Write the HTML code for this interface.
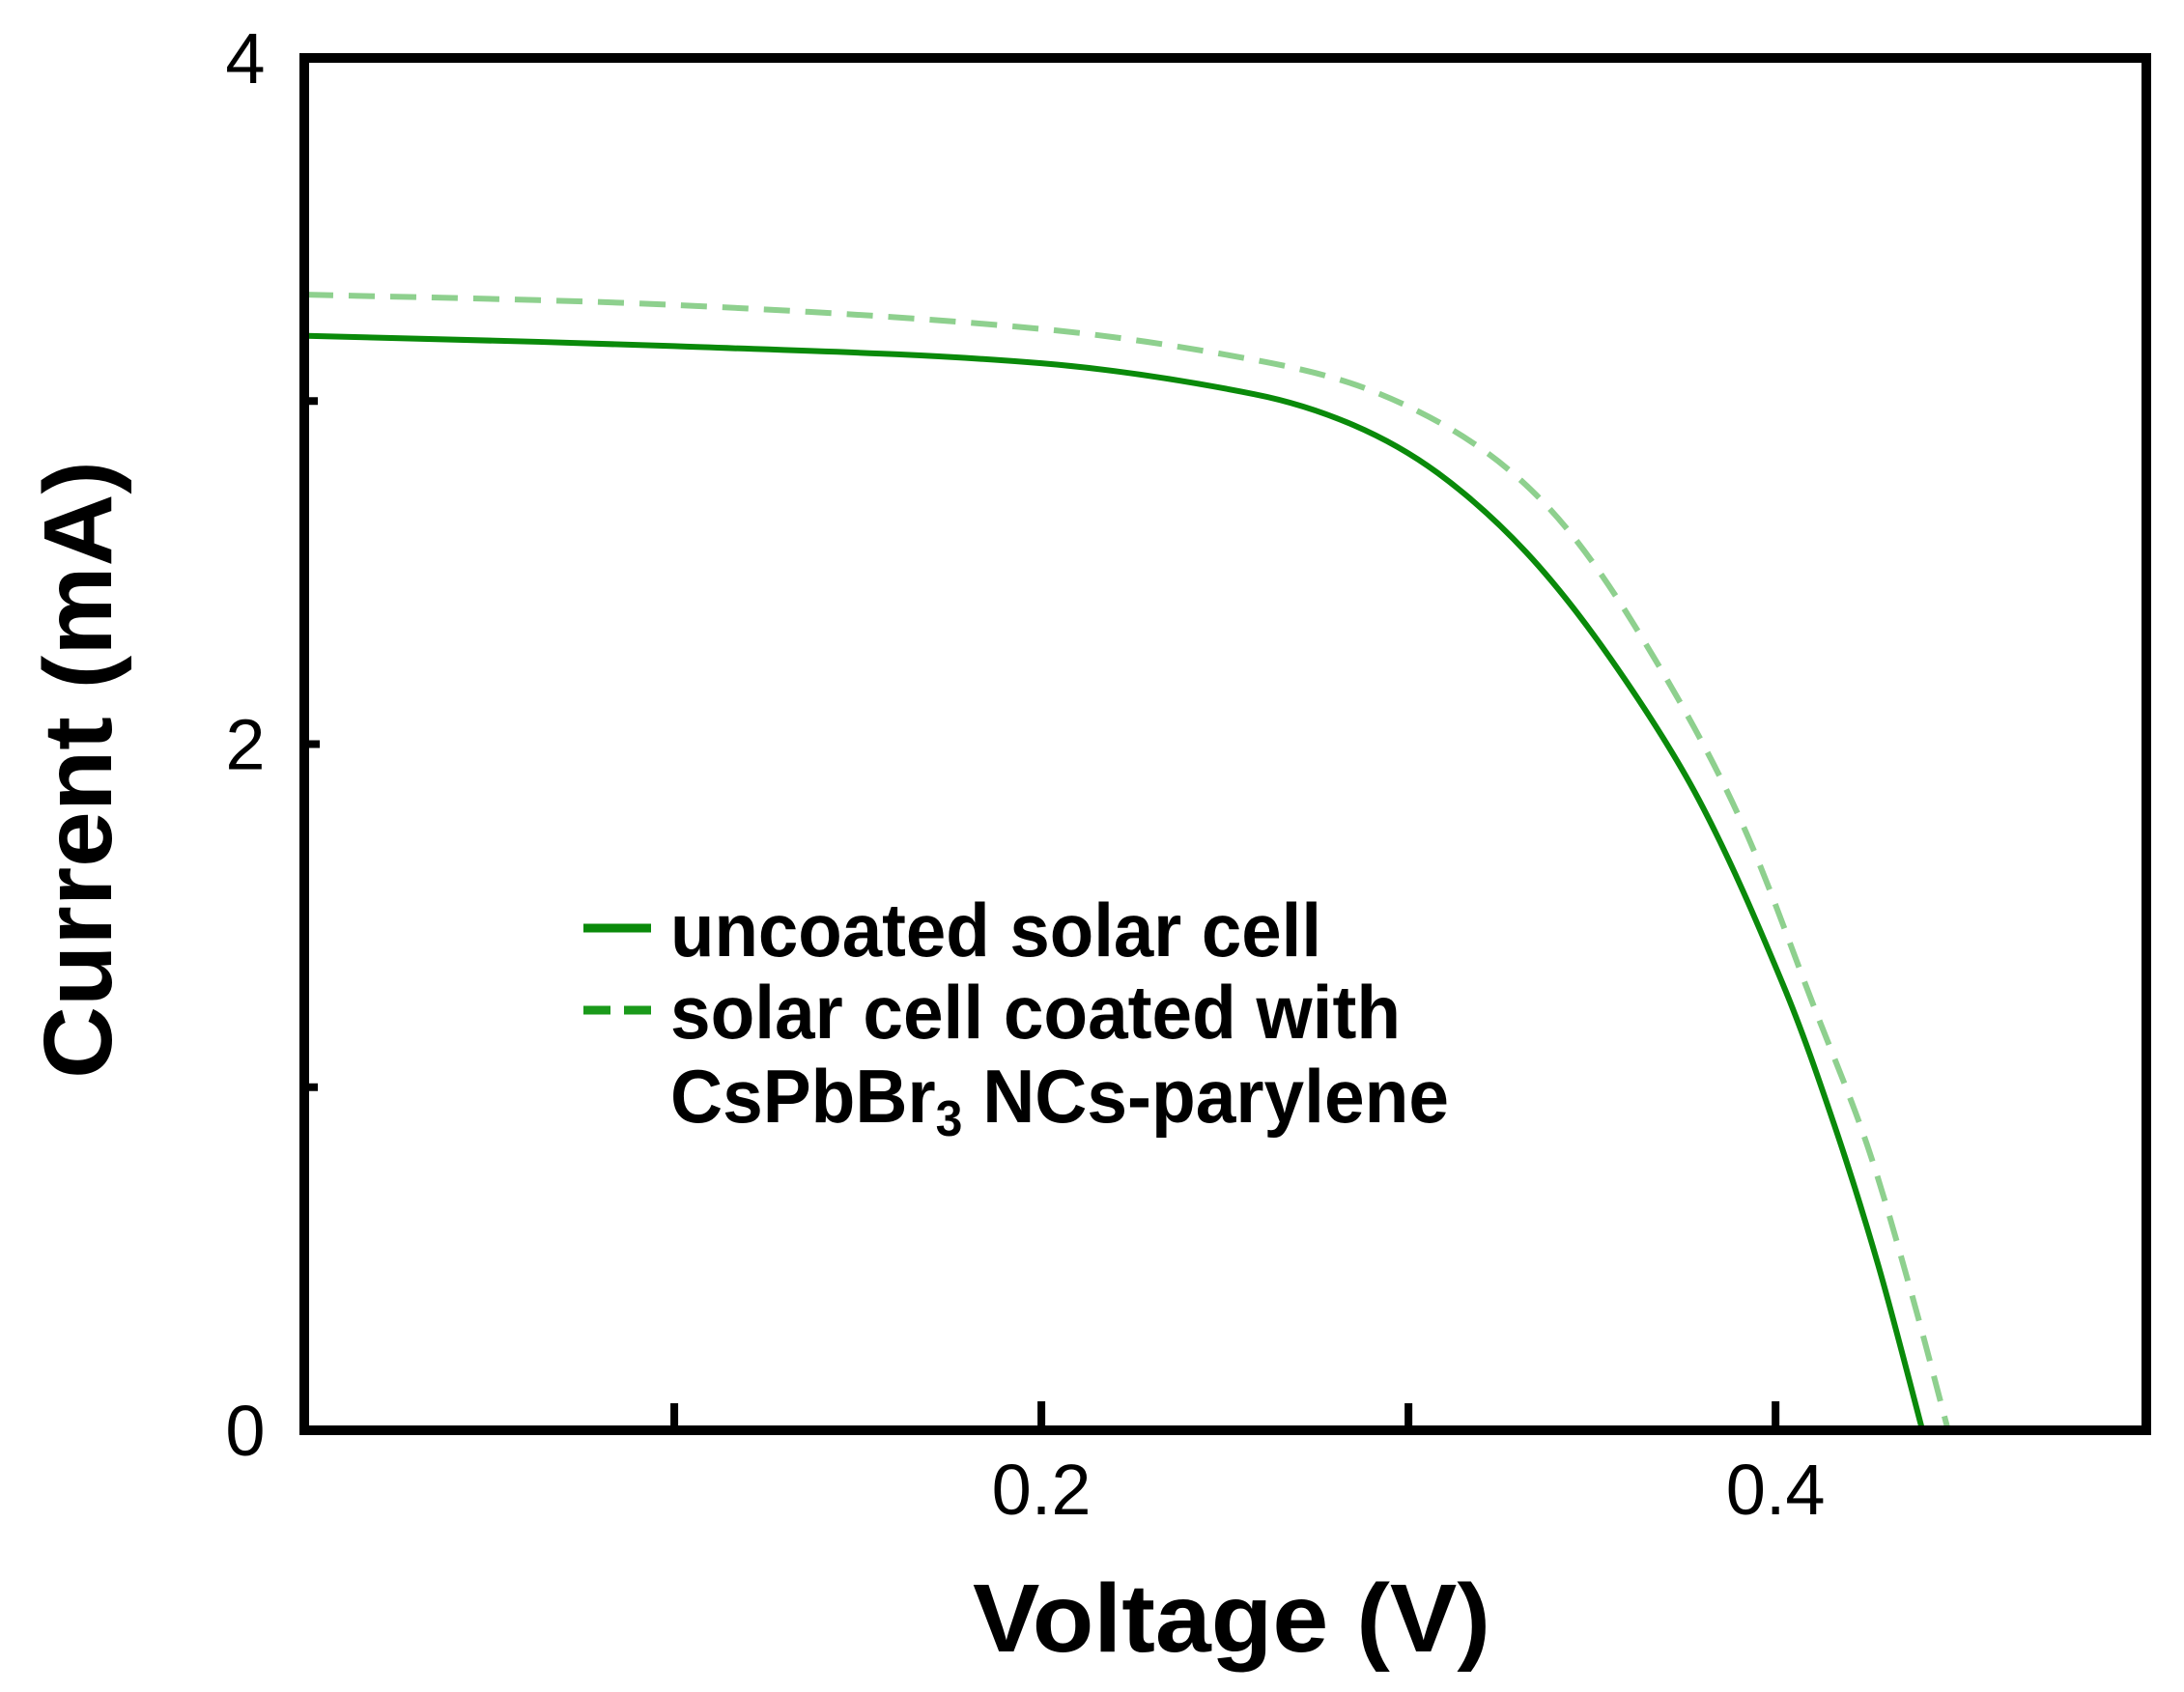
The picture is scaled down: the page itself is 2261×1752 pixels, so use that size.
<!DOCTYPE html>
<html><head><meta charset="utf-8"><style>
html,body{margin:0;padding:0;background:#fff;}
svg{display:block;}
text{font-family:"Liberation Sans",Arial,sans-serif;}
</style></head><body>
<svg id="chart" width="2261" height="1752" viewBox="0 0 2261 1752" xmlns="http://www.w3.org/2000/svg">
<g id="plot"></g>
<g id="axes"></g>
<g>
  <line x1="604" y1="961" x2="674" y2="961" stroke="#0a8a0a" stroke-width="9"/>
  <text x="694" y="990" font-size="78" font-weight="bold" textLength="674" lengthAdjust="spacingAndGlyphs">uncoated solar cell</text>
  <line x1="604" y1="1046" x2="674" y2="1046" stroke="#1a9a1a" stroke-width="9" stroke-dasharray="28,14"/>
  <text x="694" y="1075" font-size="78" font-weight="bold" textLength="756" lengthAdjust="spacingAndGlyphs">solar cell coated with</text>
  <text x="694" y="1162" font-size="78" font-weight="bold" textLength="806" lengthAdjust="spacingAndGlyphs">CsPbBr<tspan font-size="52" dy="14">3</tspan><tspan dy="-14"> NCs-parylene</tspan></text>
</g>
<text x="1275" y="1710" font-size="100" font-weight="bold" text-anchor="middle" textLength="536" lengthAdjust="spacingAndGlyphs">Voltage (V)</text>
<text transform="translate(115,797) rotate(-90)" font-size="100" font-weight="bold" text-anchor="middle" textLength="640" lengthAdjust="spacingAndGlyphs">Current (mA)</text>
</svg>
<script>
const voltsUncoated = [0, 0.1, 0.2, 0.258, 0.285, 0.308, 0.332, 0.355, 0.379, 0.402, 0.416, 0.428, 0.440];
const currentUncoated = [3.19, 3.16, 3.11, 3.02, 2.93, 2.79, 2.56, 2.25, 1.84, 1.30, 0.89, 0.48, 0];
const voltsCoated = [0, 0.1, 0.2, 0.258, 0.29, 0.32, 0.343, 0.367, 0.39, 0.411, 0.425, 0.437, 0.447];
const currentCoated = [3.31, 3.28, 3.21, 3.12, 3.03, 2.86, 2.63, 2.25, 1.79, 1.22, 0.83, 0.40, 0];
const xTickValues = [0.2, 0.4];
const xTickLabels = ["0.2", "0.4"];
const xMinorTicks = [0.1, 0.3];
const yTickValues = [0, 2, 4];
const yTickLabels = ["0", "2", "4"];
const yMinorTicks = [1, 3];

const NS = "http://www.w3.org/2000/svg";
const X0 = 315, X1 = 2222, Y0 = 1481, Y1 = 60;
const xMin = -0.0008, xMax = 0.501, yMin = 0, yMax = 4;
function sx(v){ return X0 + (v - xMin) / (xMax - xMin) * (X1 - X0); }
function sy(v){ return Y0 - (v - yMin) / (yMax - yMin) * (Y0 - Y1); }

function dist(a,b){ return Math.hypot(b[0]-a[0], b[1]-a[1]); }
function smoothPath(xs, ys){
  const p = xs.map((x,i)=>[sx(x), sy(ys[i])]);
  let d = "M" + p[0][0] + "," + p[0][1];
  const n = p.length;
  for (let i=0;i<n-1;i++){
    const a=p[Math.max(i-1,0)], b=p[i], c=p[i+1], e=p[Math.min(i+2,n-1)];
    const dab=dist(a,b), dbc=dist(b,c), dce=dist(c,e);
    const k1 = dbc/(3*((dab||dbc)+dbc));
    const k2 = dbc/(3*(dbc+(dce||dbc)));
    const t1=[(i===0? (c[0]-b[0])*0.5 : (c[0]-a[0])), (i===0? (c[1]-b[1])*0.5 : (c[1]-a[1]))];
    const t2=[(i===n-2? (c[0]-b[0])*0.5 : (e[0]-b[0])), (i===n-2? (c[1]-b[1])*0.5 : (e[1]-b[1]))];
    const c1=[b[0]+t1[0]*k1*(i===0?2:1), b[1]+t1[1]*k1*(i===0?2:1)];
    const c2=[c[0]-t2[0]*k2*(i===n-2?2:1), c[1]-t2[1]*k2*(i===n-2?2:1)];
    d += " C"+c1[0]+","+c1[1]+" "+c2[0]+","+c2[1]+" "+c[0]+","+c[1];
  }
  return d;
}
const plot = document.getElementById("plot");
const coated = document.createElementNS(NS,"path");


coated.setAttribute("d", smoothPath(voltsCoated, currentCoated));
coated.setAttribute("fill","none");
coated.setAttribute("stroke","#8ed08e");
coated.setAttribute("stroke-width","6");
coated.setAttribute("stroke-dasharray","27,16");
plot.appendChild(coated);
const unc = document.createElementNS(NS,"path");


unc.setAttribute("d", smoothPath(voltsUncoated, currentUncoated));
unc.setAttribute("fill","none");
unc.setAttribute("stroke","#0a8a0a");
unc.setAttribute("stroke-width","6");
plot.appendChild(unc);

const axes = document.getElementById("axes");
const frame = document.createElementNS(NS,"rect");


frame.setAttribute("x", X0); frame.setAttribute("y", Y1);
frame.setAttribute("width", X1-X0); frame.setAttribute("height", Y0-Y1);
frame.setAttribute("fill","none"); frame.setAttribute("stroke","#000"); frame.setAttribute("stroke-width","10");
axes.appendChild(frame);

function tick(x1,y1,x2,y2,name){
  const l=document.createElementNS(NS,"line");
  
  
  l.setAttribute("x1",x1);l.setAttribute("y1",y1);l.setAttribute("x2",x2);l.setAttribute("y2",y2);
  l.setAttribute("stroke","#000");l.setAttribute("stroke-width","8");
  axes.appendChild(l);
}
function label(x,y,t,anchor,name){
  const e=document.createElementNS(NS,"text");
  
  
  e.setAttribute("x",x);e.setAttribute("y",y);e.setAttribute("font-size","74");
  e.setAttribute("text-anchor",anchor);e.textContent=t;
  axes.appendChild(e);
}
xTickValues.forEach((v,i)=>{
  tick(sx(v),Y0,sx(v),Y0-30,'x-tick');
  label(sx(v),1568,xTickLabels[i],"middle",'x-tick-label');
});
xMinorTicks.forEach(v=>tick(sx(v),Y0,sx(v),Y0-28,'x-minor-tick'));
yTickValues.forEach((v,i)=>{
  tick(X0,sy(v),X0+16,sy(v),'y-tick');
  label(254,sy(v)+26,yTickLabels[i],"middle",'y-tick-label');
});
yMinorTicks.forEach(v=>tick(X0,sy(v),X0+14,sy(v),'y-minor-tick'));
</script>
</body></html>
